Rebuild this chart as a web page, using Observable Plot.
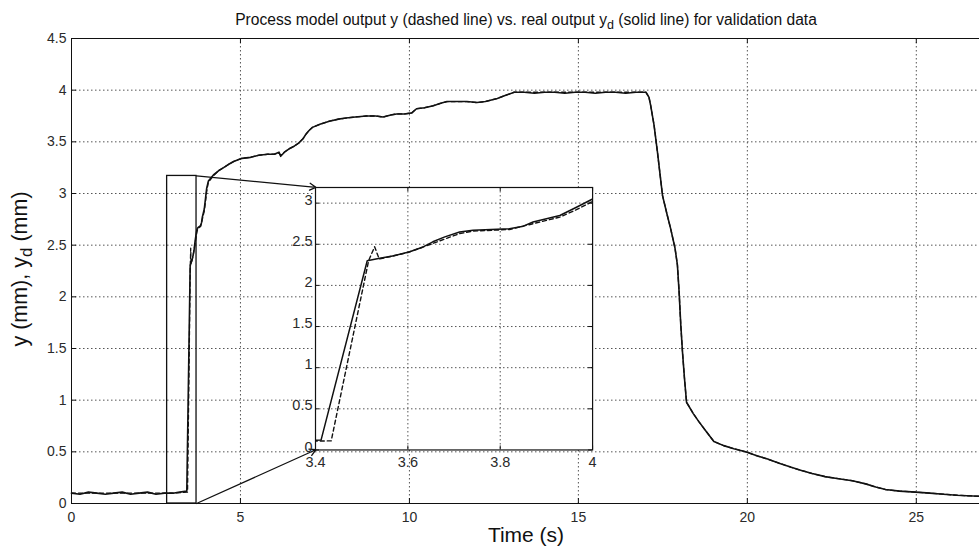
<!DOCTYPE html>
<html><head><meta charset="utf-8">
<script src="https://cdn.jsdelivr.net/npm/d3@7"></script>
<script src="https://cdn.jsdelivr.net/npm/@observablehq/plot@0.6"></script>
<style>
body{margin:0;background:#fff;}
#wrap{position:relative;width:979px;height:548px;overflow:hidden;font-family:"Liberation Sans",Arial,sans-serif;}
#wrap svg{position:absolute;}
</style></head><body><div id="wrap"></div>
<script>
// ---- data ----
const titleParts = ["Process model output y (dashed line) vs. real output y", "d", " (solid line) for validation data"];
const yLabelParts = ["y (mm), y", "d", " (mm)"];
const xLabel = "Time (s)";

// real output y_d (solid line): [time s, mm]
const realOutput = [
[0.0,0.10],[0.25,0.09],[0.5,0.11],[0.75,0.10],[1.0,0.09],[1.25,0.10],[1.5,0.11],[1.75,0.09],[2.0,0.10],[2.25,0.11],[2.5,0.09],[2.75,0.10],[3.0,0.10],[3.2,0.11],[3.412,0.12],
[3.512,2.30],[3.539,2.33],[3.57,2.36],[3.604,2.41],[3.63,2.46],[3.654,2.53],[3.68,2.59],[3.712,2.65],[3.741,2.67],[3.78,2.68],[3.82,2.69],[3.85,2.72],[3.871,2.77],[3.90,2.81],[3.929,2.85],[3.965,2.95],[4.0,3.05],
[4.05,3.12],[4.2,3.18],[4.35,3.22],[4.5,3.25],[4.64,3.28],[4.8,3.31],[5.04,3.34],[5.3,3.35],[5.54,3.37],[5.8,3.38],[6.0,3.38],[6.14,3.40],[6.19,3.36],[6.3,3.40],[6.43,3.43],[6.6,3.46],[6.73,3.49],[6.85,3.53],[6.93,3.57],[7.03,3.61],[7.13,3.64],[7.35,3.67],[7.63,3.70],[7.9,3.72],[8.12,3.73],[8.4,3.74],[8.72,3.75],[9.0,3.75],[9.22,3.74],[9.45,3.76],[9.62,3.77],[9.85,3.77],[10.07,3.78],[10.21,3.82],[10.45,3.83],[10.71,3.85],[10.9,3.87],[11.11,3.89],[11.4,3.89],[11.7,3.89],[12.0,3.88],[12.25,3.89],[12.6,3.92],[12.85,3.95],[13.1,3.98],[13.4,3.98],[13.7,3.97],[14.0,3.98],[14.3,3.98],[14.6,3.97],[14.9,3.98],[15.2,3.98],[15.5,3.97],[15.8,3.98],[16.1,3.98],[16.4,3.97],[16.7,3.98],[17.0,3.98],
[17.09,3.93],[17.14,3.85],[17.24,3.66],[17.34,3.40],[17.49,2.98],[17.63,2.79],[17.73,2.66],[17.86,2.47],[17.93,2.31],[17.98,2.05],[18.03,1.73],[18.08,1.47],[18.14,1.21],[18.2,0.98],[18.4,0.87],[18.57,0.79],[18.8,0.69],[19.01,0.60],[19.3,0.56],[19.6,0.53],[19.95,0.50],[20.3,0.46],[20.6,0.43],[20.94,0.39],[21.3,0.35],[21.6,0.32],[21.92,0.29],[22.3,0.26],[22.7,0.24],[23.11,0.22],[23.5,0.19],[23.8,0.16],[24.09,0.135],[24.5,0.12],[24.98,0.11],[25.4,0.10],[25.8,0.09],[26.2,0.08],[26.5,0.075],[26.87,0.07]
];

// process model output y (dashed line): [time s, mm]; after 4 s it lies on the solid line
const modelOutput = [
[0,0.10],[1,0.10],[2,0.10],[3,0.10],[3.434,0.11],[3.515,2.30],[3.528,2.47],[3.538,2.32],[3.60,2.40],[3.654,2.51],[3.712,2.63],[3.741,2.66],[3.82,2.68],[3.871,2.75],[3.929,2.83],[3.965,2.92],[4.0,3.02],
[4.05,3.11],[4.2,3.17],[4.35,3.22],[4.5,3.25],[4.64,3.28],[4.8,3.31],[5.04,3.34],[5.3,3.35],[5.54,3.37],[5.8,3.38],[6.0,3.38],[6.14,3.39],[6.19,3.37],[6.3,3.40],[6.43,3.43],[6.6,3.46],[6.73,3.49],[6.85,3.53],[6.93,3.57],[7.03,3.61],[7.13,3.64],[7.35,3.67],[7.63,3.70],[7.9,3.72],[8.12,3.73],[8.4,3.74],[8.72,3.75],[9.0,3.75],[9.22,3.74],[9.45,3.76],[9.62,3.77],[9.85,3.77],[10.07,3.78],[10.21,3.82],[10.45,3.83],[10.71,3.85],[10.9,3.87],[11.11,3.89],[11.4,3.89],[11.7,3.89],[12.0,3.88],[12.25,3.89],[12.6,3.92],[12.85,3.95],[13.1,3.98],[17.0,3.98],
[17.09,3.93],[17.14,3.85],[17.24,3.66],[17.34,3.40],[17.49,2.98],[17.63,2.79],[17.73,2.66],[17.86,2.47],[17.93,2.31],[17.98,2.05],[18.03,1.73],[18.08,1.47],[18.14,1.21],[18.2,0.98],[18.4,0.87],[18.57,0.79],[18.8,0.69],[19.01,0.60],[19.3,0.56],[19.6,0.53],[19.95,0.50],[20.3,0.46],[20.6,0.43],[20.94,0.39],[21.3,0.35],[21.6,0.32],[21.92,0.29],[22.3,0.26],[22.7,0.24],[23.11,0.22],[23.5,0.19],[23.8,0.16],[24.09,0.135],[24.5,0.12],[24.98,0.11],[25.4,0.10],[25.8,0.09],[26.2,0.08],[26.5,0.075],[26.87,0.07]
];

const xDomain = [0, 26.87];
const yDomain = [0, 4.5];
const xTicks = [0, 5, 10, 15, 20, 25];
const yTicks = [0, 0.5, 1, 1.5, 2, 2.5, 3, 3.5, 4, 4.5];
const xGrid = [5, 10, 15, 20, 25];
const yGrid = [0.5, 1, 1.5, 2, 2.5, 3, 3.5, 4];

const insetXDomain = [3.4, 4];
const insetYDomain = [0, 3.19];
const insetXTicks = [3.4, 3.6, 3.8, 4];
const insetYTicks = [0, 0.5, 1, 1.5, 2, 2.5, 3];
const insetXGrid = [3.6, 3.8];
const insetYGrid = [0.5, 1, 1.5, 2, 2.5, 3];

// zoom rectangle and inset placement in main-axes data units
const zoomBox = {x1: 2.83, x2: 3.70, y1: 0, y2: 3.17};
const insetBox = {x1: 7.23, x2: 15.43, y1: 0.52, y2: 3.06};

// ---- drawing ----
const font = "'Liberation Sans', Arial, Helvetica, sans-serif";
const ink = "#111";
const labelInk = "#2a2a2a";
const fmt = d => `${d}`;
const W = 979, H = 548, mL = 71, mR = 0, mT = 38, mB = 45;
const plotW = W - mL - mR, plotH = H - mT - mB;
const real = realOutput.map(([t, y]) => ({t, y}));
const model = modelOutput.map(([t, y]) => ({t, y}));
const grid = {stroke: "#555", strokeWidth: 1, strokeDasharray: "1.5,2.5"};

const arrows = [
  {x1: zoomBox.x2, y1: zoomBox.y2, x2: insetBox.x1, y2: insetBox.y2},
  {x1: zoomBox.x2, y1: zoomBox.y1, x2: insetBox.x1, y2: insetBox.y1}
];

const main = Plot.plot({
  width: W, height: H, marginLeft: mL, marginRight: mR, marginTop: mT, marginBottom: mB,
  style: {background: "transparent", fontFamily: font, fontSize: "14px", color: labelInk, overflow: "visible"},
  x: {domain: xDomain},
  y: {domain: yDomain},
  marks: [
    Plot.ruleX(xGrid, grid),
    Plot.ruleY(yGrid, grid),
    Plot.tickX(xTicks, {x: d => d, stroke: ink, insetTop: plotH - 5}),
    Plot.tickX(xTicks, {x: d => d, stroke: ink, insetBottom: plotH - 5}),
    Plot.tickY(yTicks, {y: d => d, stroke: ink, insetRight: plotW - 5}),
    Plot.ruleY([yDomain[0], yDomain[1]], {stroke: ink, strokeWidth: 1}),
    Plot.ruleX([xDomain[0]], {stroke: ink, strokeWidth: 1}),
    Plot.axisX({ticks: xTicks, tickFormat: fmt, tickSize: 0, tickPadding: 9, fontSize: 14, label: null}),
    Plot.axisY({ticks: yTicks, tickFormat: fmt, tickSize: 0, tickPadding: 5, fontSize: 14, label: null}),
    Plot.line(model, {x: "t", y: "y", stroke: ink, strokeWidth: 1.3, strokeDasharray: "4,3"}),
    Plot.line(real, {x: "t", y: "y", stroke: ink, strokeWidth: 1.6}),
    Plot.rect([zoomBox], {x1: "x1", x2: "x2", y1: "y1", y2: "y2", fill: "none", stroke: ink, strokeWidth: 1.3}),
    Plot.arrow(arrows, {x1: "x1", y1: "y1", x2: "x2", y2: "y2", stroke: ink, strokeWidth: 1.3, headLength: 8})
  ]
});

const msvg = d3.select(main);
const title = msvg.append("text").attr("x", 526).attr("y", 25).attr("text-anchor", "middle")
  .style("font-family", font).style("font-size", "15.6px").attr("fill", ink);
title.append("tspan").text(titleParts[0]);
title.append("tspan").attr("dy", 4).style("font-size", "12.5px").text(titleParts[1]);
title.append("tspan").attr("dy", -4).text(titleParts[2]);

msvg.append("text").attr("x", 526).attr("y", 542).attr("text-anchor", "middle")
  .style("font-family", font).style("font-size", "21px").attr("fill", ink).text(xLabel);

const yl = msvg.append("text").attr("transform", "translate(27,269) rotate(-90)").attr("text-anchor", "middle")
  .style("font-family", font).style("font-size", "21.5px").attr("fill", ink);
yl.append("tspan").text(yLabelParts[0]);
yl.append("tspan").attr("dy", 5).style("font-size", "17px").text(yLabelParts[1]);
yl.append("tspan").attr("dy", -5).text(yLabelParts[2]);

document.getElementById("wrap").appendChild(main);
main.style.left = "0px"; main.style.top = "0px";

// ---- inset ----
const sx = main.scale("x"), sy = main.scale("y");
const ix1 = sx.apply(insetBox.x1), ix2 = sx.apply(insetBox.x2);
const iyTop = sy.apply(insetBox.y2), iyBot = sy.apply(insetBox.y1);
const imL = 40, imR = 2, imT = 2, imB = 24;
const iw = ix2 - ix1, ih = iyBot - iyTop;
const inset = Plot.plot({
  width: iw + imL + imR, height: ih + imT + imB,
  marginLeft: imL, marginRight: imR, marginTop: imT, marginBottom: imB,
  style: {background: "transparent", fontFamily: font, fontSize: "14px", color: labelInk, overflow: "visible"},
  x: {domain: insetXDomain},
  y: {domain: insetYDomain},
  marks: [
    Plot.frame({fill: "white", stroke: "none"}),
    Plot.ruleX(insetXGrid, grid),
    Plot.ruleY(insetYGrid, grid),
    Plot.tickX(insetXTicks, {x: d => d, stroke: ink, insetTop: ih - 4}),
    Plot.tickX(insetXTicks, {x: d => d, stroke: ink, insetBottom: ih - 4}),
    Plot.tickY(insetYTicks, {y: d => d, stroke: ink, insetRight: iw - 4}),
    Plot.tickY(insetYTicks, {y: d => d, stroke: ink, insetLeft: iw - 4}),
    Plot.axisX({ticks: insetXTicks, tickFormat: fmt, tickSize: 0, tickPadding: 7, fontSize: 14.5, label: null}),
    Plot.axisY({ticks: insetYTicks, tickFormat: fmt, tickSize: 0, tickPadding: 3, dy: -3, fontSize: 14.5, label: null}),
    Plot.line(model, {x: "t", y: "y", stroke: ink, strokeWidth: 1.4, strokeDasharray: "4,3", clip: true}),
    Plot.line(real, {x: "t", y: "y", stroke: ink, strokeWidth: 1.5, clip: true}),
    Plot.frame({stroke: ink, strokeWidth: 1.2})
  ]
});
document.getElementById("wrap").appendChild(inset);
inset.style.left = (ix1 - imL) + "px";
inset.style.top = (iyTop - imT) + "px";
</script></body></html>
